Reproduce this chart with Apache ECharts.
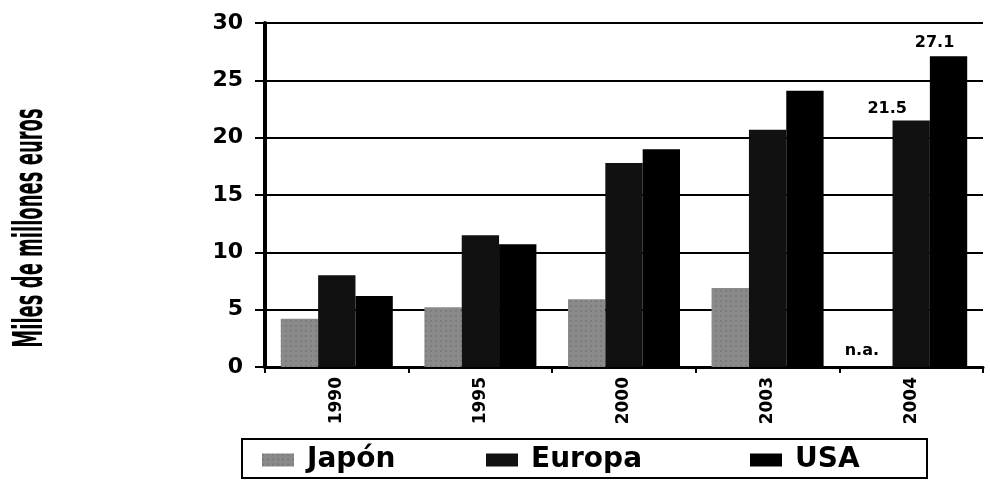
<!DOCTYPE html>
<html>
<head>
<meta charset="utf-8">
<script src="https://cdn.jsdelivr.net/npm/echarts@6/dist/echarts.min.js"></script>
<style>
  html, body { margin: 0; padding: 0; background: #fff; }
  #chart { width: 990px; height: 481px; }
</style>
</head>
<body>
<div id="chart"></div>
<script>
  // categories and values (miles de millones de euros)
  const years = ['1990', '1995', '2000', '2003', '2004'];
  const japon = [4.2, 5.2, 5.9, 6.9, 0];
  const europa = [8.0, 11.5, 17.8, 20.7, 21.5];
  const usa = [6.2, 10.7, 19.0, 24.1, 27.1];
  const yTicks = [0, 5, 10, 15, 20, 25, 30];

  const font = '"DejaVu Sans", sans-serif';

  const mychart = echarts.init(document.getElementById('chart'));

  // only a few bars carry a label in the original
  const japonData = japon.map(function (v, i) {
    if (i === 4) {
      return { value: v, label: { show: true, position: 'top', distance: 8, offset: [-12, 0], formatter: 'n.a.' } };
    }
    return v;
  });
  const europaData = europa.map(function (v, i) {
    if (i === 4) {
      return { value: v, label: { show: true, position: 'top', distance: 4, offset: [-24, 0] } };
    }
    return v;
  });
  const usaData = usa.map(function (v, i) {
    if (i === 4) {
      return { value: v, label: { show: true, position: 'top', distance: 5, offset: [-14, 0] } };
    }
    return v;
  });

  const labelStyle = {
    show: false,
    color: '#000',
    fontFamily: font,
    fontWeight: 'bold',
    fontSize: 16
  };

  // one legend per entry so the items spread across the framed box
  function legendItem(name, left) {
    return {
      left: left,
      top: 446,
      icon: 'rect',
      itemWidth: 32,
      itemHeight: 13,
      padding: 0,
      textStyle: {
        color: '#000',
        fontFamily: font,
        fontWeight: 'bold',
        fontSize: 28,
        padding: [0, 0, 0, 8]
      },
      data: [name]
    };
  }

  mychart.setOption({
    backgroundColor: '#fff',
    animation: false,
    color: ['#8a8a8a', '#111111', '#000000'],
    graphic: [{
      type: 'text',
      x: 32,
      y: 228,
      rotation: Math.PI / 2,
      scaleY: 2.0,
      style: {
        text: 'Miles de millones euros',
        font: 'bold 20px "DejaVu Sans Condensed", "DejaVu Sans", sans-serif',
        textAlign: 'center',
        textVerticalAlign: 'middle',
        align: 'center',
        verticalAlign: 'middle',
        fill: '#000'
      }
    }, {
      // frame around the legend
      type: 'rect',
      shape: { x: 242, y: 439, width: 685, height: 39 },
      style: { fill: 'none', stroke: '#000', lineWidth: 2 }
    }],
    legend: [
      legendItem('Japón', 262),
      legendItem('Europa', 486),
      legendItem('USA', 750)
    ],
    grid: {
      left: 265,
      right: 7,
      top: 23,
      bottom: 114
    },
    xAxis: {
      type: 'category',
      data: years,
      axisLine: { lineStyle: { color: '#000', width: 3 } },
      axisTick: { show: true, length: 6, lineStyle: { color: '#000', width: 2 } },
      axisLabel: {
        rotate: 90,
        margin: 10,
        color: '#000',
        fontFamily: font,
        fontWeight: 'bold',
        fontSize: 17
      }
    },
    yAxis: {
      type: 'value',
      min: yTicks[0],
      max: yTicks[yTicks.length - 1],
      interval: 5,
      axisLine: { show: true, lineStyle: { color: '#000', width: 4 } },
      axisTick: { show: true, length: 10, lineStyle: { color: '#000', width: 2 } },
      axisLabel: {
        margin: 22,
        color: '#000',
        fontFamily: font,
        fontWeight: 'bold',
        fontSize: 22
      },
      splitLine: { show: true, lineStyle: { color: '#000', width: 2 } }
    },
    series: [
      {
        name: 'Japón',
        type: 'bar',
        barGap: '0%',
        barCategoryGap: '22%',
        itemStyle: {
          color: '#8a8a8a',
          decal: {
            symbol: 'rect',
            symbolSize: 0.6,
            dashArrayX: [2, 3],
            dashArrayY: [2, 3],
            color: 'rgba(40,40,40,0.45)'
          }
        },
        label: labelStyle,
        data: japonData
      },
      {
        name: 'Europa',
        type: 'bar',
        barGap: '0%',
        barCategoryGap: '22%',
        itemStyle: { color: '#111111' },
        label: labelStyle,
        data: europaData
      },
      {
        name: 'USA',
        type: 'bar',
        barGap: '0%',
        barCategoryGap: '22%',
        itemStyle: { color: '#000000' },
        label: labelStyle,
        data: usaData
      }
    ]
  });
</script>
</body>
</html>
